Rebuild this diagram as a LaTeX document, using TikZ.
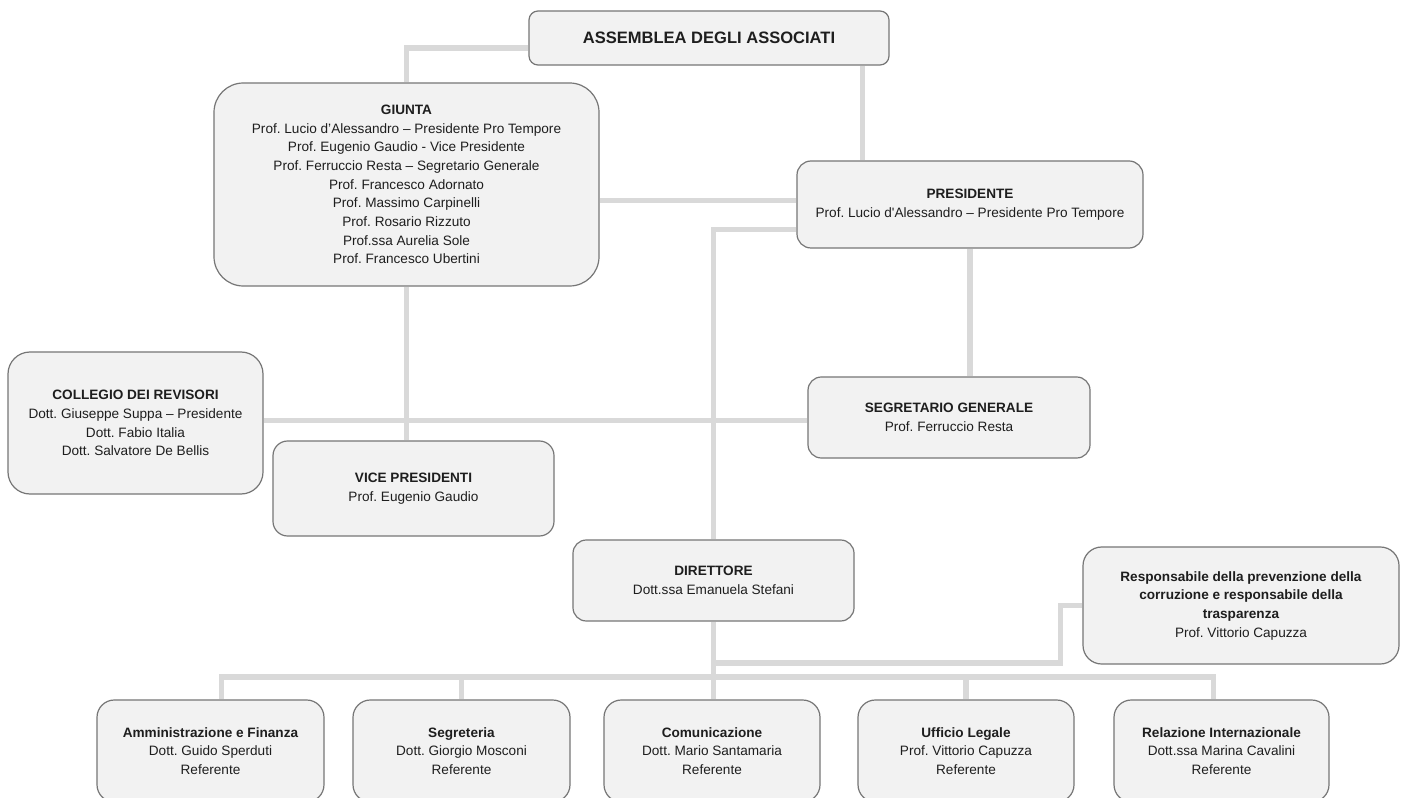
\documentclass[tikz,border=0pt]{standalone}
\usepackage{fontspec}
\setmainfont{Liberation Sans}
\frenchspacing
\usetikzlibrary{backgrounds}
\definecolor{boxfill}{HTML}{F2F2F2}
\definecolor{boxline}{HTML}{767676}
\definecolor{linkgray}{HTML}{D9D9D9}
\definecolor{inkgray}{HTML}{1E1E1E}
\tikzset{
  orgbox/.style={rectangle, draw=boxline, fill=boxfill, line width=0.9pt, align=center, inner sep=0pt, text=inkgray, font=\fontsize{10.2pt}{14pt}\selectfont},
  boxsize/.style 2 args={minimum width=#1*0.75pt, minimum height=#2*0.75pt},
  link/.style={draw=linkgray, line width=3.8pt},
}

\begin{document}
\begin{tikzpicture}[x=0.75pt, y=-0.75pt]
		\useasboundingbox (0,0) rectangle (1405,798);
		\clip (0,0) rectangle (1405,798);
		\node[orgbox, boxsize={360}{54}, rounded corners=6.75pt, font=\fontsize{12.4pt}{15pt}\selectfont\bfseries] (assemblea) at (709,38) {ASSEMBLEA DEGLI ASSOCIATI};
		\node[orgbox, boxsize={385}{203}, rounded corners=22pt] (giunta) at (406.5,184.5) {\textbf{GIUNTA}\\Prof. Lucio d’Alessandro – Presidente Pro Tempore\\Prof. Eugenio Gaudio - Vice Presidente\\Prof. Ferruccio Resta – Segretario Generale\\Prof. Francesco Adornato\\Prof. Massimo Carpinelli\\Prof. Rosario Rizzuto\\Prof.ssa Aurelia Sole\\Prof. Francesco Ubertini};
		\node[orgbox, boxsize={346}{87}, rounded corners=10.5pt] (presidente) at (970,204.5) {\textbf{PRESIDENTE}\\Prof. Lucio d\textquotesingle Alessandro – Presidente Pro Tempore};
		\node[orgbox, boxsize={255}{142}, rounded corners=16.5pt] (collegio) at (135.5,423) {\textbf{COLLEGIO DEI REVISORI}\\Dott. Giuseppe Suppa – Presidente\\Dott. Fabio Italia\\Dott. Salvatore De Bellis};
		\node[orgbox, boxsize={281}{95}, rounded corners=11pt] (vice) at (413.5,488.5) {\textbf{VICE PRESIDENTI}\\Prof. Eugenio Gaudio};
		\node[orgbox, boxsize={282}{81}, rounded corners=10pt] (segretario) at (949,417.5) {\textbf{SEGRETARIO GENERALE}\\Prof. Ferruccio Resta};
		\node[orgbox, boxsize={281}{81}, rounded corners=10pt] (direttore) at (713.5,580.5) {\textbf{DIRETTORE}\\Dott.ssa Emanuela Stefani};
		\node[orgbox, boxsize={316}{117}, rounded corners=14pt] (resp) at (1241,605.5) {\textbf{Responsabile della prevenzione della}\\\textbf{corruzione e responsabile della}\\\textbf{trasparenza}\\Prof. Vittorio Capuzza};
		\node[orgbox, boxsize={227}{102}, rounded corners=13pt] (amm) at (210.5,751) {\textbf{Amministrazione e Finanza}\\Dott. Guido Sperduti\\Referente};
		\node[orgbox, boxsize={217}{102}, rounded corners=13pt] (segr) at (461.5,751) {\textbf{Segreteria}\\Dott. Giorgio Mosconi\\Referente};
		\node[orgbox, boxsize={216}{102}, rounded corners=13pt] (com) at (712,751) {\textbf{Comunicazione}\\Dott. Mario Santamaria\\Referente};
		\node[orgbox, boxsize={216}{102}, rounded corners=13pt] (uff) at (966,751) {\textbf{Ufficio Legale}\\Prof. Vittorio Capuzza\\Referente};
		\node[orgbox, boxsize={215}{102}, rounded corners=13pt] (rel) at (1221.5,751) {\textbf{Relazione Internazionale}\\Dott.ssa Marina Cavalini\\Referente};
		\coordinate (bus) at (713.5,677);
		\coordinate (split) at (713.5,663);
		\coordinate (ammtop) at ([xshift=8pt]amm.north);
		\coordinate (reltop) at ([xshift=-6pt]rel.north);
		\begin{scope}[on background layer]
		\fill[white] (0,0) rectangle (1405,798);
		\draw[link] ([yshift=-7.5pt]assemblea.west) -| (giunta.north);
		\draw[link] ([xshift=-20pt]assemblea.south east) -- ([xshift=-20pt]assemblea.south east |- presidente.north);
		\draw[link] ([yshift=3pt]presidente.west) -- ([yshift=3pt]presidente.west -| giunta.east);
		\draw[link] ([yshift=-19pt]presidente.west) -| (direttore.north);
		\draw[link] (presidente.south) -- (presidente.south |- segretario.north);
		\draw[link] (giunta.south) -- (giunta.south |- vice.north);
		\draw[link] ([yshift=2pt]collegio.east) -- ([yshift=2pt]collegio.east -| segretario.west);
		\draw[link] (direttore.south) -- (direttore.south |- com.north);
		\draw[link] (ammtop) |- (reltop |- bus) -- (reltop);
		\foreach \b in {segr,uff} \draw[link] (\b.north) -- (\b.north |- bus);
		\draw[link] (resp.west) -- ++(-22,0) |- (split);
		\end{scope}
\end{tikzpicture}
\end{document}
